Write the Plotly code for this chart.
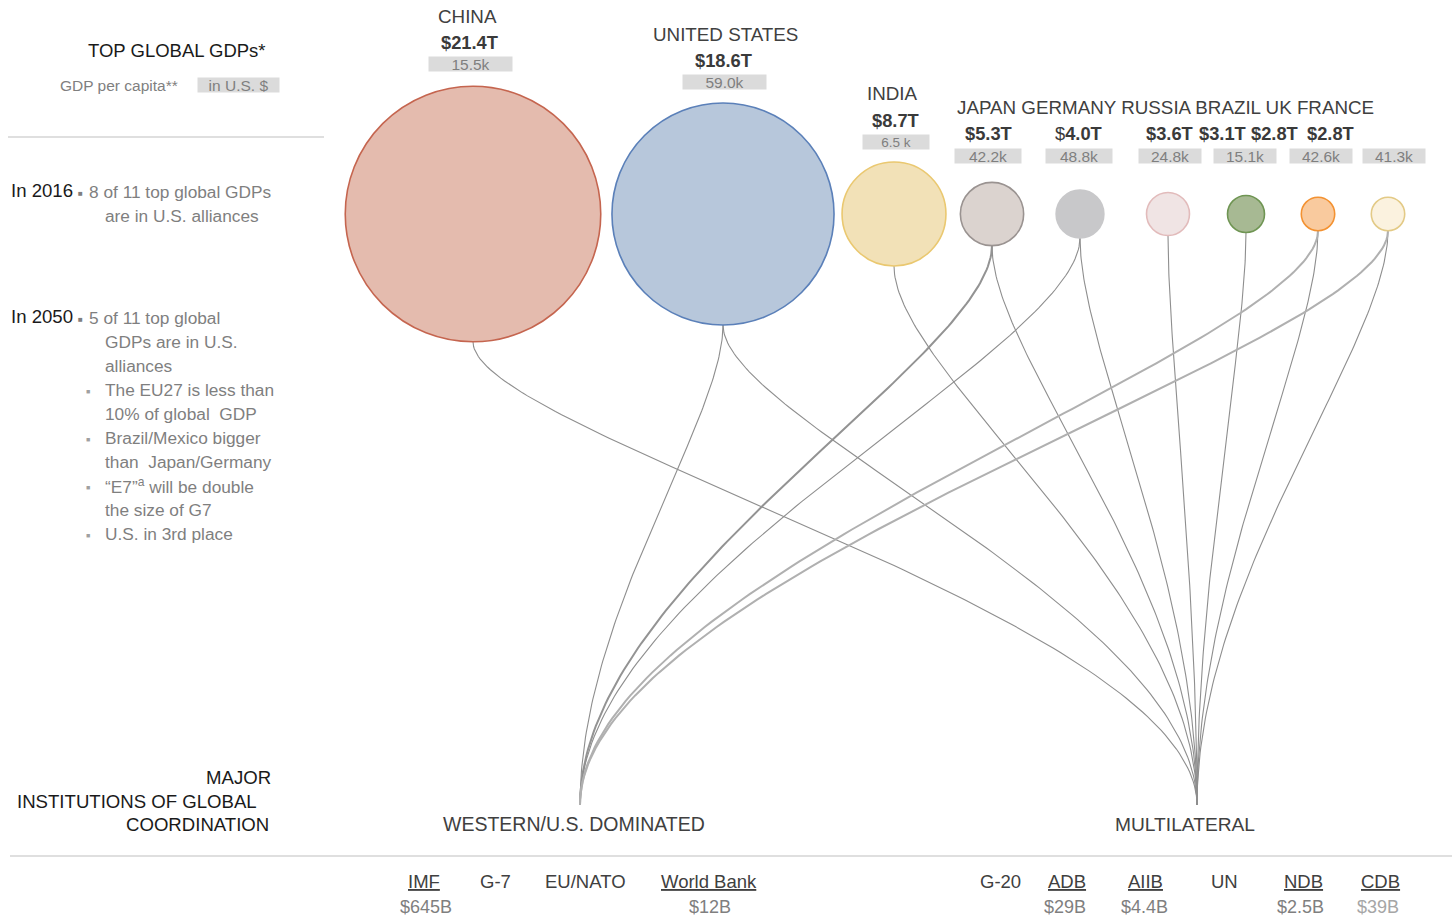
import numpy as np
import plotly.graph_objects as go

# ---------------- data ----------------
countries = ["CHINA", "UNITED STATES", "INDIA", "JAPAN", "GERMANY",
             "RUSSIA", "BRAZIL", "UK", "FRANCE"]
gdp_trillion = [21.4, 18.6, 8.7, 5.3, 4.0, 3.6, 3.1, 2.8, 2.8]
gdp_per_capita = ["15.5k", "59.0k", "6.5 k", "42.2k", "48.8k",
                  "24.8k", "15.1k", "42.6k", "41.3k"]

western_links = ["UNITED STATES", "JAPAN", "GERMANY", "UK", "FRANCE"]
multilateral_links = ["CHINA", "UNITED STATES", "INDIA", "JAPAN", "GERMANY",
                      "RUSSIA", "BRAZIL", "UK", "FRANCE"]

western_institutions = ["IMF", "G-7", "EU/NATO", "World Bank"]
western_budgets = ["$645B", "", "", "$12B"]
multilateral_institutions = ["G-20", "ADB", "AIIB", "UN", "NDB", "CDB"]
multilateral_budgets = ["", "$29B", "$4.4B", "", "$2.5B", "$39B"]
underlined = {"IMF", "World Bank", "ADB", "AIIB", "NDB", "CDB"}

notes_2016 = ["8 of 11 top global GDPs", "are in U.S. alliances"]
notes_2050 = [("5 of 11 top global", "GDPs are in U.S.", "alliances"),
              ("The EU27 is less than", "10% of global  GDP"),
              ("Brazil/Mexico bigger", "than  Japan/Germany"),
              ("\u201cE7\u201d<sup>a</sup> will be double", "the size of G7"),
              ("U.S. in 3rd place",)]

# ---------------- styles / layout ----------------
W, H = 1452, 917
FONT = "Liberation Sans, Arial, sans-serif"
PX_PER_T = 5.97          # circle radius in px per $1T
circle_x = [473, 723, 894, 992, 1080, 1168, 1246, 1318, 1388]
circle_y = 214
fill_colors = ["#E4BBAE", "#B7C7DB", "#F2E1B7", "#DBD3CF", "#C8C8CA",
               "#F0E4E4", "#A7B993", "#F9CA9E", "#FBF2DF"]
edge_colors = ["#C5654F", "#5B80B9", "#EAC870", "#9A9391", "#C8C8CA",
               "#E2BBBB", "#6F9553", "#F39232", "#E3CA86"]

name_pos = {"CHINA": (467, 16), "UNITED STATES": (725, 34), "INDIA": (892, 93)}
group_name_pos = (955, 107)
gdp_pos_x = [469, 723, 895, 988, 1078, 1169, 1222, 1274, 1330]
gdp_pos_y = [42, 60, 120, 133, 133, 133, 133, 133, 133]
pc_x = [470, 724, 896, 988, 1079, 1170, 1245, 1321, 1394]
pc_y = [64, 82, 145, 156, 156, 156, 156, 156, 156]
pc_w = [83, 83, 66, 66, 66, 62, 62, 62, 62]

hubs = {"western": (580, 805), "multilateral": (1197, 805)}
inst_x_w = [424, 495, 585, 709]
inst_x_m = [1000, 1067, 1145, 1224, 1303, 1380]
budget_x_w = [426, None, None, 710]
budget_x_m = [None, 1065, 1144, None, 1300, 1378]

TXT = "#404040"
GREY = "#7F7F7F"
BOX = "#DBDBDB"
NAME_SIZE = 18.8

fig = go.Figure()


def bezier(x0, y0, x1, y1, a=0.2, b=0.4, n=120):
    dy = y1 - y0
    t = np.linspace(0, 1, n)
    px = [x0, x0, x1, x1]
    py = [y0, y0 + a * dy, y1 - b * dy, y1]
    c = [(1 - t) ** 3, 3 * (1 - t) ** 2 * t, 3 * (1 - t) * t ** 2, t ** 3]
    xs = sum(ci * p for ci, p in zip(c, px))
    ys = sum(ci * p for ci, p in zip(c, py))
    return xs, ys


def add_link(country, hub, color="#8E8E8E", width=1.1):
    i = countries.index(country)
    r = PX_PER_T * gdp_trillion[i]
    hx, hy = hubs[hub]
    xs, ys = bezier(circle_x[i], circle_y + r, hx, hy)
    fig.add_trace(go.Scatter(x=xs, y=ys, mode="lines",
                             line=dict(color=color, width=width),
                             hoverinfo="skip", showlegend=False))


for c in multilateral_links:
    add_link(c, "multilateral")
for c in western_links:
    if c == "JAPAN":
        add_link(c, "western", "#939393", 2.0)
    elif c in ("UK", "FRANCE"):
        add_link(c, "western", "#B0B0B0", 2.0)
    else:
        add_link(c, "western")

# circles
fig.add_trace(go.Scatter(
    x=circle_x, y=[circle_y] * len(countries), mode="markers",
    marker=dict(size=[2 * PX_PER_T * g for g in gdp_trillion],
                color=fill_colors,
                line=dict(color=edge_colors, width=1.6), opacity=1),
    hoverinfo="skip", showlegend=False))

ann = []


def text(x, y, s, size=18, color=TXT, xanchor="center", **kw):
    ann.append(dict(x=x, y=y, xref="x", yref="y", text=s, showarrow=False,
                    xanchor=xanchor, yanchor="middle",
                    font=dict(family=FONT, size=size, color=color), **kw))


BULLET = "\u25A0"

# country names
for name, (x, y) in name_pos.items():
    text(x, y, name, NAME_SIZE)
text(group_name_pos[0], group_name_pos[1], " ".join(countries[3:]), NAME_SIZE,
     xanchor="left")

# GDP labels
for i, c in enumerate(countries):
    v = f"{gdp_trillion[i]:.1f}T"
    s = f"$<b>{v}</b>" if c == "GERMANY" else f"<b>${v}</b>"
    text(gdp_pos_x[i], gdp_pos_y[i], s, 18.3, "#3A3A3A")

# GDP per capita boxes
for i in range(len(countries)):
    fs = 13.5 if countries[i] == "INDIA" else 15.5
    text(pc_x[i], pc_y[i], gdp_per_capita[i], fs, GREY,
         bgcolor=BOX, width=pc_w[i], height=14, borderpad=0,
         yshift=(3 if countries[i] == "INDIA" else 0))

# Left panel
text(177, 50, "TOP GLOBAL GDPs*", 18.5, "#1A1A1A")
text(58, 85, "GDP per capita**", 15.5, GREY, xanchor="left")
text(238, 85, "in U.S. $", 15.5, GREY, bgcolor=BOX, width=81, height=14,
     borderpad=0)

text(9, 190, "In 2016", 18.6, "#1A1A1A", xanchor="left")
text(76, 193, BULLET, 8, GREY, xanchor="left")
text(87, 192, notes_2016[0], 17.3, GREY, xanchor="left")
text(103, 216, notes_2016[1], 17.3, GREY, xanchor="left")

text(9, 316, "In 2050", 18.6, "#1A1A1A", xanchor="left")
y = 318
for k, item in enumerate(notes_2050):
    for j, line in enumerate(item):
        if k == 0 and j == 0:
            text(76, y + 1, BULLET, 8, GREY, xanchor="left")
            text(87, y, line, 17.3, GREY, xanchor="left")
        else:
            if j == 0:
                text(84, y + 1, BULLET, 7, "#A0A0A0", xanchor="left")
            text(103, y, line, 17.3, GREY, xanchor="left")
        y += 24

text(273, 777, "MAJOR", 18.6, "#1A1A1A", xanchor="right")
text(15, 801, "INSTITUTIONS OF GLOBAL", 18.6, "#1A1A1A", xanchor="left")
text(271, 824, "COORDINATION", 18.6, "#1A1A1A", xanchor="right")

text(574, 824, "WESTERN/U.S. DOMINATED", 19.5, TXT)
text(1185, 824, "MULTILATERAL", 19.2, TXT)

# institutions
for names, budgets, xs, bxs in [
        (western_institutions, western_budgets, inst_x_w, budget_x_w),
        (multilateral_institutions, multilateral_budgets, inst_x_m, budget_x_m)]:
    for n, b, x, bx in zip(names, budgets, xs, bxs):
        s = f"<u>{n}</u>" if n in underlined else n
        text(x, 881, s, 18.5, TXT)
        if b:
            col = "#A6A6A6" if n == "CDB" else GREY
            text(bx, 907, b, 18, col)

shapes = [
    dict(type="line", xref="x", yref="y", x0=8, x1=324, y0=137, y1=137,
         line=dict(color="#C0C0C0", width=1.2)),
    dict(type="line", xref="x", yref="y", x0=10, x1=1452, y0=856, y1=856,
         line=dict(color="#C0C0C0", width=1.2)),
]

fig.update_layout(
    width=W, height=H, margin=dict(l=0, r=0, t=0, b=0),
    paper_bgcolor="white", plot_bgcolor="white",
    xaxis=dict(range=[0, W], visible=False, fixedrange=True),
    yaxis=dict(range=[H, 0], visible=False, fixedrange=True),
    annotations=ann, shapes=shapes, showlegend=False,
    font=dict(family=FONT),
)

fig.write_html("out.html")
